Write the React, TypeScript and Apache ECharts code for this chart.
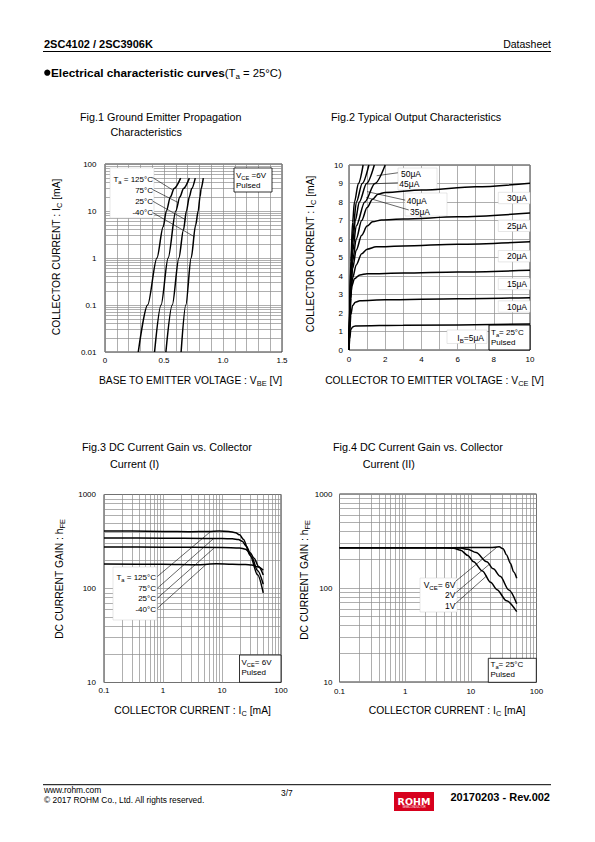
import React, { useEffect, useRef } from "react";
import * as echarts from "echarts";

const FONT = "Liberation Sans, Arial, Helvetica, sans-serif";

// ---------------- Fig.1 Ground Emitter Propagation (VBE [V], IC [mA]) ----------------
const fig1Labels = ["125", "75", "25", "-40"];
const fig1T125 = [[0.282, 0.01], [0.361, 0.1], [0.44, 1], [0.493, 4.6], [0.52, 10], [0.555, 20], [0.585, 30], [0.641, 50]];
const fig1T75 = [[0.42, 0.01], [0.475, 0.1], [0.535, 1], [0.6, 10], [0.635, 20], [0.665, 30], [0.715, 50]];
const fig1T25 = [[0.516, 0.01], [0.57, 0.1], [0.626, 1], [0.665, 4], [0.69, 10], [0.715, 20], [0.735, 30], [0.765, 50]];
const fig1Tm40 = [[0.645, 0.01], [0.685, 0.1], [0.73, 1], [0.768, 5], [0.79, 10], [0.805, 20], [0.815, 30], [0.833, 50]];
const fig1Leaders = [
  [[0.4025, 51.6], [0.574, 28]],
  [[0.4025, 28.7], [0.627, 14.8]],
  [[0.4025, 16.3], [0.686, 6.44]],
  [[0.4025, 9.29], [0.757, 2.84]],
];

// ---------------- Fig.2 Typical Output Characteristics (VCE [V], IC [mA]) ----------------
const fig2Ib5 = [[0, 0], [0.04, 0.6], [0.1, 1.1], [0.2, 1.25], [0.35, 1.3], [3, 1.34], [10, 1.4]];
const fig2Ib10 = [[0, 0], [0.05, 1.2], [0.1, 1.9], [0.2, 2.4], [0.35, 2.58], [0.6, 2.66], [2, 2.71], [6, 2.77], [10, 2.83]];
const fig2Ib15 = [[0, 0], [0.05, 1.6], [0.1, 2.8], [0.15, 3.45], [0.3, 3.85], [0.6, 4.06], [1, 4.12], [3, 4.16], [6, 4.22], [10, 4.31]];
const fig2Ib20 = [[0, 0], [0.05, 1.8], [0.1, 3], [0.2, 3.9], [0.4, 4.6], [0.7, 5.2], [1, 5.45], [1.5, 5.58], [3, 5.62], [6, 5.72], [10, 5.85]];
const fig2Ib25 = [[0, 0], [0.05, 2], [0.1, 3.3], [0.2, 4.4], [0.4, 5.4], [0.7, 6.2], [1, 6.7], [1.3, 6.93], [1.8, 7.03], [3, 7.08], [6, 7.2], [10, 7.4]];
const fig2Ib30 = [[0, 0], [0.05, 2.1], [0.1, 3.5], [0.2, 4.8], [0.4, 6], [0.7, 7], [1, 7.7], [1.3, 8.15], [1.6, 8.42], [2, 8.52], [4, 8.65], [7, 8.82], [10, 9.02]];
const fig2Ib35 = [[0, 0], [0.05, 2.2], [0.1, 3.8], [0.2, 5.3], [0.4, 6.7], [0.87, 8], [1.43, 9], [2.0, 10]];
const fig2Ib40 = [[0, 0], [0.05, 2.4], [0.1, 4.1], [0.2, 5.8], [0.35, 7], [0.57, 8], [0.97, 9], [1.4, 10]];
const fig2Ib45 = [[0, 0], [0.05, 2.6], [0.1, 4.4], [0.2, 6.3], [0.41, 8], [0.73, 9], [1.1, 10]];
const fig2Ib50 = [[0, 0], [0.05, 2.8], [0.1, 4.8], [0.2, 6.9], [0.3, 8], [0.52, 9], [0.78, 10]];
const fig2RightLabels = ["30", "25", "20", "15", "10"];
const fig2Leaders = [
  [[2.7, 9.58], [1.53, 9.42]],
  [[2.7, 9.04], [1.0, 8.97]],
  [[3.1, 8.1], [1.0, 8.56]],
  [[3.3, 7.57], [0.95, 8.25]],
];

// ---------------- Fig.3 DC Current Gain vs Collector Current (I) (IC [mA], hFE) ----------------
const fig3T125 = [[0.1, 410], [0.3, 408], [1, 405], [3, 402], [6, 404], [9, 408], [13, 405], [17, 392], [20, 372], [23, 335], [30, 225], [40, 140], [50, 90]];
const fig3T75 = [[0.1, 345], [1, 343], [5, 340], [10, 340], [15, 338], [19, 332], [22, 318], [26, 280], [32, 215], [40, 155], [50, 111]];
const fig3T25 = [[0.1, 277], [1, 275], [10, 273], [20, 270], [25, 262], [30, 240], [35, 210], [42, 170], [50, 139]];
const fig3Tm40 = [[0.1, 182], [1, 181], [4, 179], [8, 183], [15, 181], [25, 180], [32, 178], [40, 170], [50, 157]];
const fig3Leaders = [
  [[0.8, 134], [6.39, 403]],
  [[0.8, 100.5], [7.1, 337]],
  [[0.8, 78.7], [7.27, 268]],
  [[0.8, 61.5], [5.26, 178]],
];

// ---------------- Fig.4 DC Current Gain vs Collector Current (II) ----------------
const fig4V6 = [[0.1, 268], [1, 268], [5, 268], [20, 270], [27, 274], [31, 262], [35, 225], [40, 183], [45, 148], [50, 127]];
const fig4V2 = [[0.1, 268], [1, 268], [5, 268], [7, 266], [9, 258], [12, 238], [17.5, 190], [22, 160], [28, 133], [38, 95], [50, 68]];
const fig4V1 = [[0.1, 268], [1, 268], [4, 268], [5.5, 264], [7, 252], [9, 222], [11, 190], [15, 152], [20, 115], [25, 96], [35, 73], [50, 56]];
const fig4Labels = ["6V", "2V", "1V"];
const fig4Leaders = [
  [[5.8, 117], [25, 272]],
  [[5.8, 88], [19, 178]],
  [[5.8, 68], [17.5, 135]],
];

// ---------------- tick helpers ----------------
const logMantissas = [2, 3, 4, 5, 6, 7, 8, 9];
const fig1YDecades = [0.01, 0.1, 1, 10];
const gainXDecades = [0.1, 1, 10];
const gainYDecades = [10, 100];

const minorLog = (decades: number[]) =>
  decades.flatMap((d) => logMantissas.map((m) => +(d * m).toPrecision(4)));

const GRID_COLOR = "#8c8c8c";

function gridSeries(xi: number, minorX: number[], minorY: number[]) {
  return {
    type: "line",
    xAxisIndex: xi,
    yAxisIndex: xi,
    data: [],
    z: 1,
    silent: true,
    markLine: {
      silent: true,
      z: 1,
      symbol: ["none", "none"],
      label: { show: false },
      emphasis: { disabled: true },
      lineStyle: { color: GRID_COLOR, width: 0.7, type: "solid" },
      data: [...minorX.map((v) => ({ xAxis: v })), ...minorY.map((v) => ({ yAxis: v }))],
    },
  };
}

function curve(xi: number, data: number[][]) {
  return {
    type: "line",
    xAxisIndex: xi,
    yAxisIndex: xi,
    data,
    z: 20,
    silent: true,
    symbol: "none",
    showSymbol: false,
    smooth: 0.3,
    smoothMonotone: "x",
    lineStyle: { color: "#000", width: 1.5 },
  };
}

function leader(xi: number, data: number[][]) {
  return {
    type: "line",
    xAxisIndex: xi,
    yAxisIndex: xi,
    data,
    z: 21,
    silent: true,
    symbol: "none",
    showSymbol: false,
    lineStyle: { color: "#000", width: 0.6 },
  };
}

const nameRich = (size: number) => ({
  n: { fontSize: size, fontFamily: FONT, color: "#000", lineHeight: 13 },
  s: { fontSize: size * 0.72, fontFamily: FONT, color: "#000", verticalAlign: "bottom", lineHeight: 13 },
});

const nameStyle = (padding: number[]) => ({
  fontSize: 10.3,
  fontFamily: FONT,
  color: "#000",
  rich: nameRich(10.3),
  padding,
});

const tickLabel = (margin: number, formatter: any) => ({
  color: "#000",
  fontSize: 8,
  fontFamily: FONT,
  margin,
  formatter,
  showMinLabel: true,
  showMaxLabel: true,
});

const logFmt = (v: number) => `${+(+v).toPrecision(3)}`;

// ---------------- graphic helpers ----------------
function txt(x: number, y: number, text: string, o: any = {}) {
  const size = o.size ?? 8;
  return {
    type: "text",
    x,
    y,
    z: o.z ?? 30,
    silent: true,
    style: {
      text,
      fill: o.color ?? "#000",
      fontSize: size,
      fontFamily: o.family ?? FONT,
      fontWeight: o.weight ?? "normal",
      textAlign: o.align ?? "left",
      align: o.align ?? "left",
      textVerticalAlign: "middle",
      verticalAlign: "middle",
      rich: o.rich,
    },
  };
}

const subRich = (size: number) => ({
  n: { fontSize: size, fontFamily: FONT, fill: "#000", lineHeight: size + 3 },
  s: { fontSize: size * 0.72, fontFamily: FONT, fill: "#000", verticalAlign: "bottom", lineHeight: size + 3 },
});

function box(x: number, y: number, w: number, h: number, stroke: string, lw: number) {
  return {
    type: "rect",
    z: 10,
    silent: true,
    shape: { x, y, width: w, height: h },
    style: { fill: "#fff", stroke, lineWidth: lw },
  };
}

function hline(x1: number, x2: number, y: number) {
  return {
    type: "line",
    z: 10,
    silent: true,
    shape: { x1, y1: y, x2, y2: y },
    style: { stroke: "#000", lineWidth: 1 },
  };
}

function buildOption() {
  const LIGHT = "#cfcfcf";
  const graphic: any[] = [
    // header
    txt(44, 43.5, "2SC4102 / 2SC3906K", { size: 11, weight: "bold" }),
    txt(551, 43.5, "Datasheet", { size: 10.5, align: "right" }),
    hline(43, 551, 51.5),
    { type: "circle", z: 30, silent: true, shape: { cx: 47.3, cy: 72.7, r: 3.1 }, style: { fill: "#000" } },
    txt(51, 72.7, "{b|Electrical characteristic curves}{r|(T}{s|a}{r| = 25°C)}", {
      size: 11.5,
      rich: {
        b: { fontSize: 11.8, fontWeight: "bold", fontFamily: FONT, fill: "#000", lineHeight: 15 },
        r: { fontSize: 11.3, fontFamily: FONT, fill: "#000", lineHeight: 15 },
        s: { fontSize: 8, fontFamily: FONT, fill: "#000", verticalAlign: "bottom", lineHeight: 15 },
      },
    }),
    // figure titles
    txt(80, 117.3, "Fig.1 Ground Emitter Propagation", { size: 10.8 }),
    txt(110.5, 131.7, "Characteristics", { size: 10.8 }),
    txt(331, 117.3, "Fig.2 Typical Output Characteristics", { size: 10.8 }),
    txt(82, 447.3, "Fig.3 DC Current Gain vs. Collector", { size: 10.8 }),
    txt(110, 464.3, "Current (I)", { size: 10.8 }),
    txt(333, 447.3, "Fig.4 DC Current Gain vs. Collector", { size: 10.8 }),
    txt(362.7, 464.3, "Current (II)", { size: 10.8 }),

    // Fig.1 annotations
    box(110, 168, 44, 50, LIGHT, 0.5),
    txt(153, 179, `{n|T}{s|a}{n| = ${fig1Labels[0]}°C}`, { align: "right", rich: subRich(8) }),
    ...fig1Labels.slice(1).map((t, i) => txt(153, 190 + i * 11.2, `${t}°C`, { align: "right" })),
    box(234, 168, 38, 24, "#000", 0.8),
    txt(236, 175.5, "{n|V}{s|CE}{n| =6V}", { rich: subRich(8) }),
    txt(236, 185, "Pulsed"),

    // Fig.2 annotations
    box(398, 168, 39, 22, LIGHT, 0.5),
    txt(401, 174.3, "50μA", { size: 8.5 }),
    txt(399.3, 184, "45μA", { size: 8.5 }),
    box(405, 193, 42, 23, LIGHT, 0.5),
    txt(406.7, 200.7, "40μA", { size: 8.5 }),
    txt(410, 211.5, "35μA", { size: 8.5 }),
    ...fig2RightLabels.flatMap((t, i) => {
      const ys = [198, 225.8, 256.2, 284, 306.5];
      return [box(498.3, ys[i] - 5.7, 31.7, 11.4, LIGHT, 0.5), txt(527, ys[i], `${t}μA`, { size: 8.5, align: "right" })];
    }),
    box(447, 330, 40, 13.5, LIGHT, 0.5),
    txt(484, 337.5, "{n|I}{s|B}{n|=5μA}", { align: "right", rich: subRich(8.5) }),
    box(489, 325, 41, 25, "#000", 1),
    txt(491, 332.5, "{n|T}{s|a}{n|= 25°C}", { rich: subRich(8) }),
    txt(491, 342.5, "Pulsed"),

    // Fig.3 annotations
    box(113, 567, 44, 53, LIGHT, 0.5),
    txt(156, 577.7, "{n|T}{s|a}{n| = 125°C}", { align: "right", rich: subRich(8) }),
    txt(156, 588.3, "75°C", { align: "right" }),
    txt(156, 598.6, "25°C", { align: "right" }),
    txt(156, 609, "-40°C", { align: "right" }),
    box(239.5, 655, 41.5, 27.3, "#000", 0.8),
    txt(241.5, 662.7, "{n|V}{s|CE}{n|= 6V}", { rich: subRich(8) }),
    txt(241.5, 672.5, "Pulsed"),

    // Fig.4 annotations
    box(420, 578, 37, 34, LIGHT, 0.5),
    txt(455.5, 584.5, `{n|V}{s|CE}{n|= ${fig4Labels[0]}}`, { align: "right", rich: subRich(8.5) }),
    txt(455.5, 595, fig4Labels[1], { align: "right", size: 8.5 }),
    txt(455.5, 606, fig4Labels[2], { align: "right", size: 8.5 }),
    box(488.3, 658.3, 48, 24, "#000", 0.8),
    txt(490.5, 664.5, "{n|T}{s|a}{n|= 25°C}", { rich: subRich(8) }),
    txt(490.5, 674, "Pulsed"),

    // footer
    hline(43, 551, 784.7),
    txt(44, 789.8, "www.rohm.com", { size: 8.4 }),
    txt(44, 799.6, "© 2017 ROHM Co., Ltd. All rights reserved.", { size: 8.4 }),
    txt(281, 793, "3/7", { size: 8.4 }),
    {
      type: "rect",
      z: 10,
      silent: true,
      shape: { x: 394, y: 792, width: 40, height: 19 },
      style: { fill: "#d7001d" },
    },
    txt(414, 801, "ROHM", { size: 9.5, weight: "bold", color: "#fff", align: "center", family: "DejaVu Sans, Liberation Sans, sans-serif" }),
    txt(414, 807.8, "SEMICONDUCTOR", { size: 2.6, color: "#fff", align: "center" }),
    txt(550, 796.7, "20170203 - Rev.002", { size: 11, weight: "bold", align: "right" }),
  ];

  const grids = [
    { left: 105, top: 164, width: 177, height: 188 },
    { left: 349, top: 165, width: 181, height: 185 },
    { left: 104, top: 494.5, width: 177, height: 188 },
    { left: 339.5, top: 494, width: 197, height: 188 },
  ].map((g) => ({ ...g, show: true, borderColor: "#333", borderWidth: 1, backgroundColor: "transparent", containLabel: false }));

  const split = { show: true, lineStyle: { color: GRID_COLOR, width: 0.7 } };
  const common = { axisTick: { show: false }, axisLine: { show: false }, splitLine: split, nameLocation: "middle" };

  const xAxis = [
    {
      ...common,
      gridIndex: 0,
      type: "value",
      min: 0,
      max: 1.5,
      interval: 0.1,
      axisLabel: tickLabel(4.5, (v: number) => {
        const r = Math.round(v * 10);
        if (r % 5 !== 0) return "";
        return r === 0 ? "0" : (r / 10).toFixed(1);
      }),
      name: "{n|BASE TO EMITTER VOLTAGE : V}{s|BE}{n| [V]}",
      nameGap: 21.5,
      nameTextStyle: nameStyle([0, 6, 0, 0]),
    },
    {
      ...common,
      gridIndex: 1,
      type: "value",
      min: 0,
      max: 10,
      interval: 1,
      axisLabel: tickLabel(5.5, (v: number) => (Math.round(v) % 2 === 0 ? String(Math.round(v)) : "")),
      name: "{n|COLLECTOR TO EMITTER VOLTAGE : V}{s|CE}{n| [V]}",
      nameGap: 23.5,
      nameTextStyle: nameStyle([0, 10, 0, 0]),
    },
    {
      ...common,
      gridIndex: 2,
      type: "log",
      logBase: 10,
      min: 0.1,
      max: 100,
      axisLabel: tickLabel(4, logFmt),
      name: "{n|COLLECTOR CURRENT : I}{s|C}{n| [mA]}",
      nameGap: 21,
      nameTextStyle: nameStyle([0, 0, 0, 0]),
    },
    {
      ...common,
      gridIndex: 3,
      type: "log",
      logBase: 10,
      min: 0.1,
      max: 100,
      axisLabel: tickLabel(5.5, logFmt),
      name: "{n|COLLECTOR CURRENT : I}{s|C}{n| [mA]}",
      nameGap: 21.5,
      nameTextStyle: nameStyle([0, 0, 0, 18]),
    },
  ];

  const yAxis = [
    {
      ...common,
      gridIndex: 0,
      type: "log",
      logBase: 10,
      min: 0.01,
      max: 100,
      axisLabel: tickLabel(8.5, logFmt),
      name: "{n|COLLECTOR CURRENT : I}{s|C}{n| [mA]}",
      nameGap: 41.8,
      nameTextStyle: nameStyle([0, 0, 0, 2]),
    },
    {
      ...common,
      gridIndex: 1,
      type: "value",
      min: 0,
      max: 10,
      interval: 1,
      axisLabel: tickLabel(6, (v: number) => String(Math.round(v))),
      name: "{n|COLLECTOR CURRENT : I}{s|C}{n| [mA]}",
      nameGap: 32.5,
      nameTextStyle: nameStyle([0, 0, 0, 7]),
    },
    {
      ...common,
      gridIndex: 2,
      type: "log",
      logBase: 10,
      min: 10,
      max: 1000,
      axisLabel: tickLabel(8, logFmt),
      name: "{n|DC CURRENT GAIN : h}{s|FE}",
      nameGap: 38.2,
      nameTextStyle: nameStyle([0, 0, 0, 19]),
    },
    {
      ...common,
      gridIndex: 3,
      type: "log",
      logBase: 10,
      min: 10,
      max: 1000,
      axisLabel: tickLabel(7, logFmt),
      name: "{n|DC CURRENT GAIN : h}{s|FE}",
      nameGap: 21.3,
      nameTextStyle: nameStyle([0, 0, 0, 16]),
    },
  ];

  const series: any[] = [
    gridSeries(0, [], minorLog(fig1YDecades)),
    gridSeries(1, [], []),
    gridSeries(2, minorLog(gainXDecades), minorLog(gainYDecades)),
    gridSeries(3, minorLog(gainXDecades), minorLog(gainYDecades)),
    ...[fig1T125, fig1T75, fig1T25, fig1Tm40].map((d) => curve(0, d)),
    ...fig1Leaders.map((d) => leader(0, d)),
    ...[fig2Ib5, fig2Ib10, fig2Ib15, fig2Ib20, fig2Ib25, fig2Ib30, fig2Ib35, fig2Ib40, fig2Ib45, fig2Ib50].map((d) => curve(1, d)),
    ...fig2Leaders.map((d) => leader(1, d)),
    ...[fig3T125, fig3T75, fig3T25, fig3Tm40].map((d) => curve(2, d)),
    ...fig3Leaders.map((d) => leader(2, d)),
    ...[fig4V6, fig4V2, fig4V1].map((d) => curve(3, d)),
    ...fig4Leaders.map((d) => leader(3, d)),
  ];

  return {
    animation: false,
    backgroundColor: "#fff",
    textStyle: { fontFamily: FONT },
    grid: grids,
    xAxis,
    yAxis,
    series,
    graphic: { elements: graphic },
  };
}

export default function App() {
  const ref = useRef<HTMLDivElement>(null);
  useEffect(() => {
    if (!ref.current) return;
    const chart = echarts.init(ref.current, null, { renderer: "svg" });
    chart.setOption(buildOption() as any);
    return () => chart.dispose();
  }, []);
  return (
    <div
      ref={ref}
      style={{ position: "absolute", left: 0, top: 0, width: 595, height: 842, background: "#fff" }}
    />
  );
}
